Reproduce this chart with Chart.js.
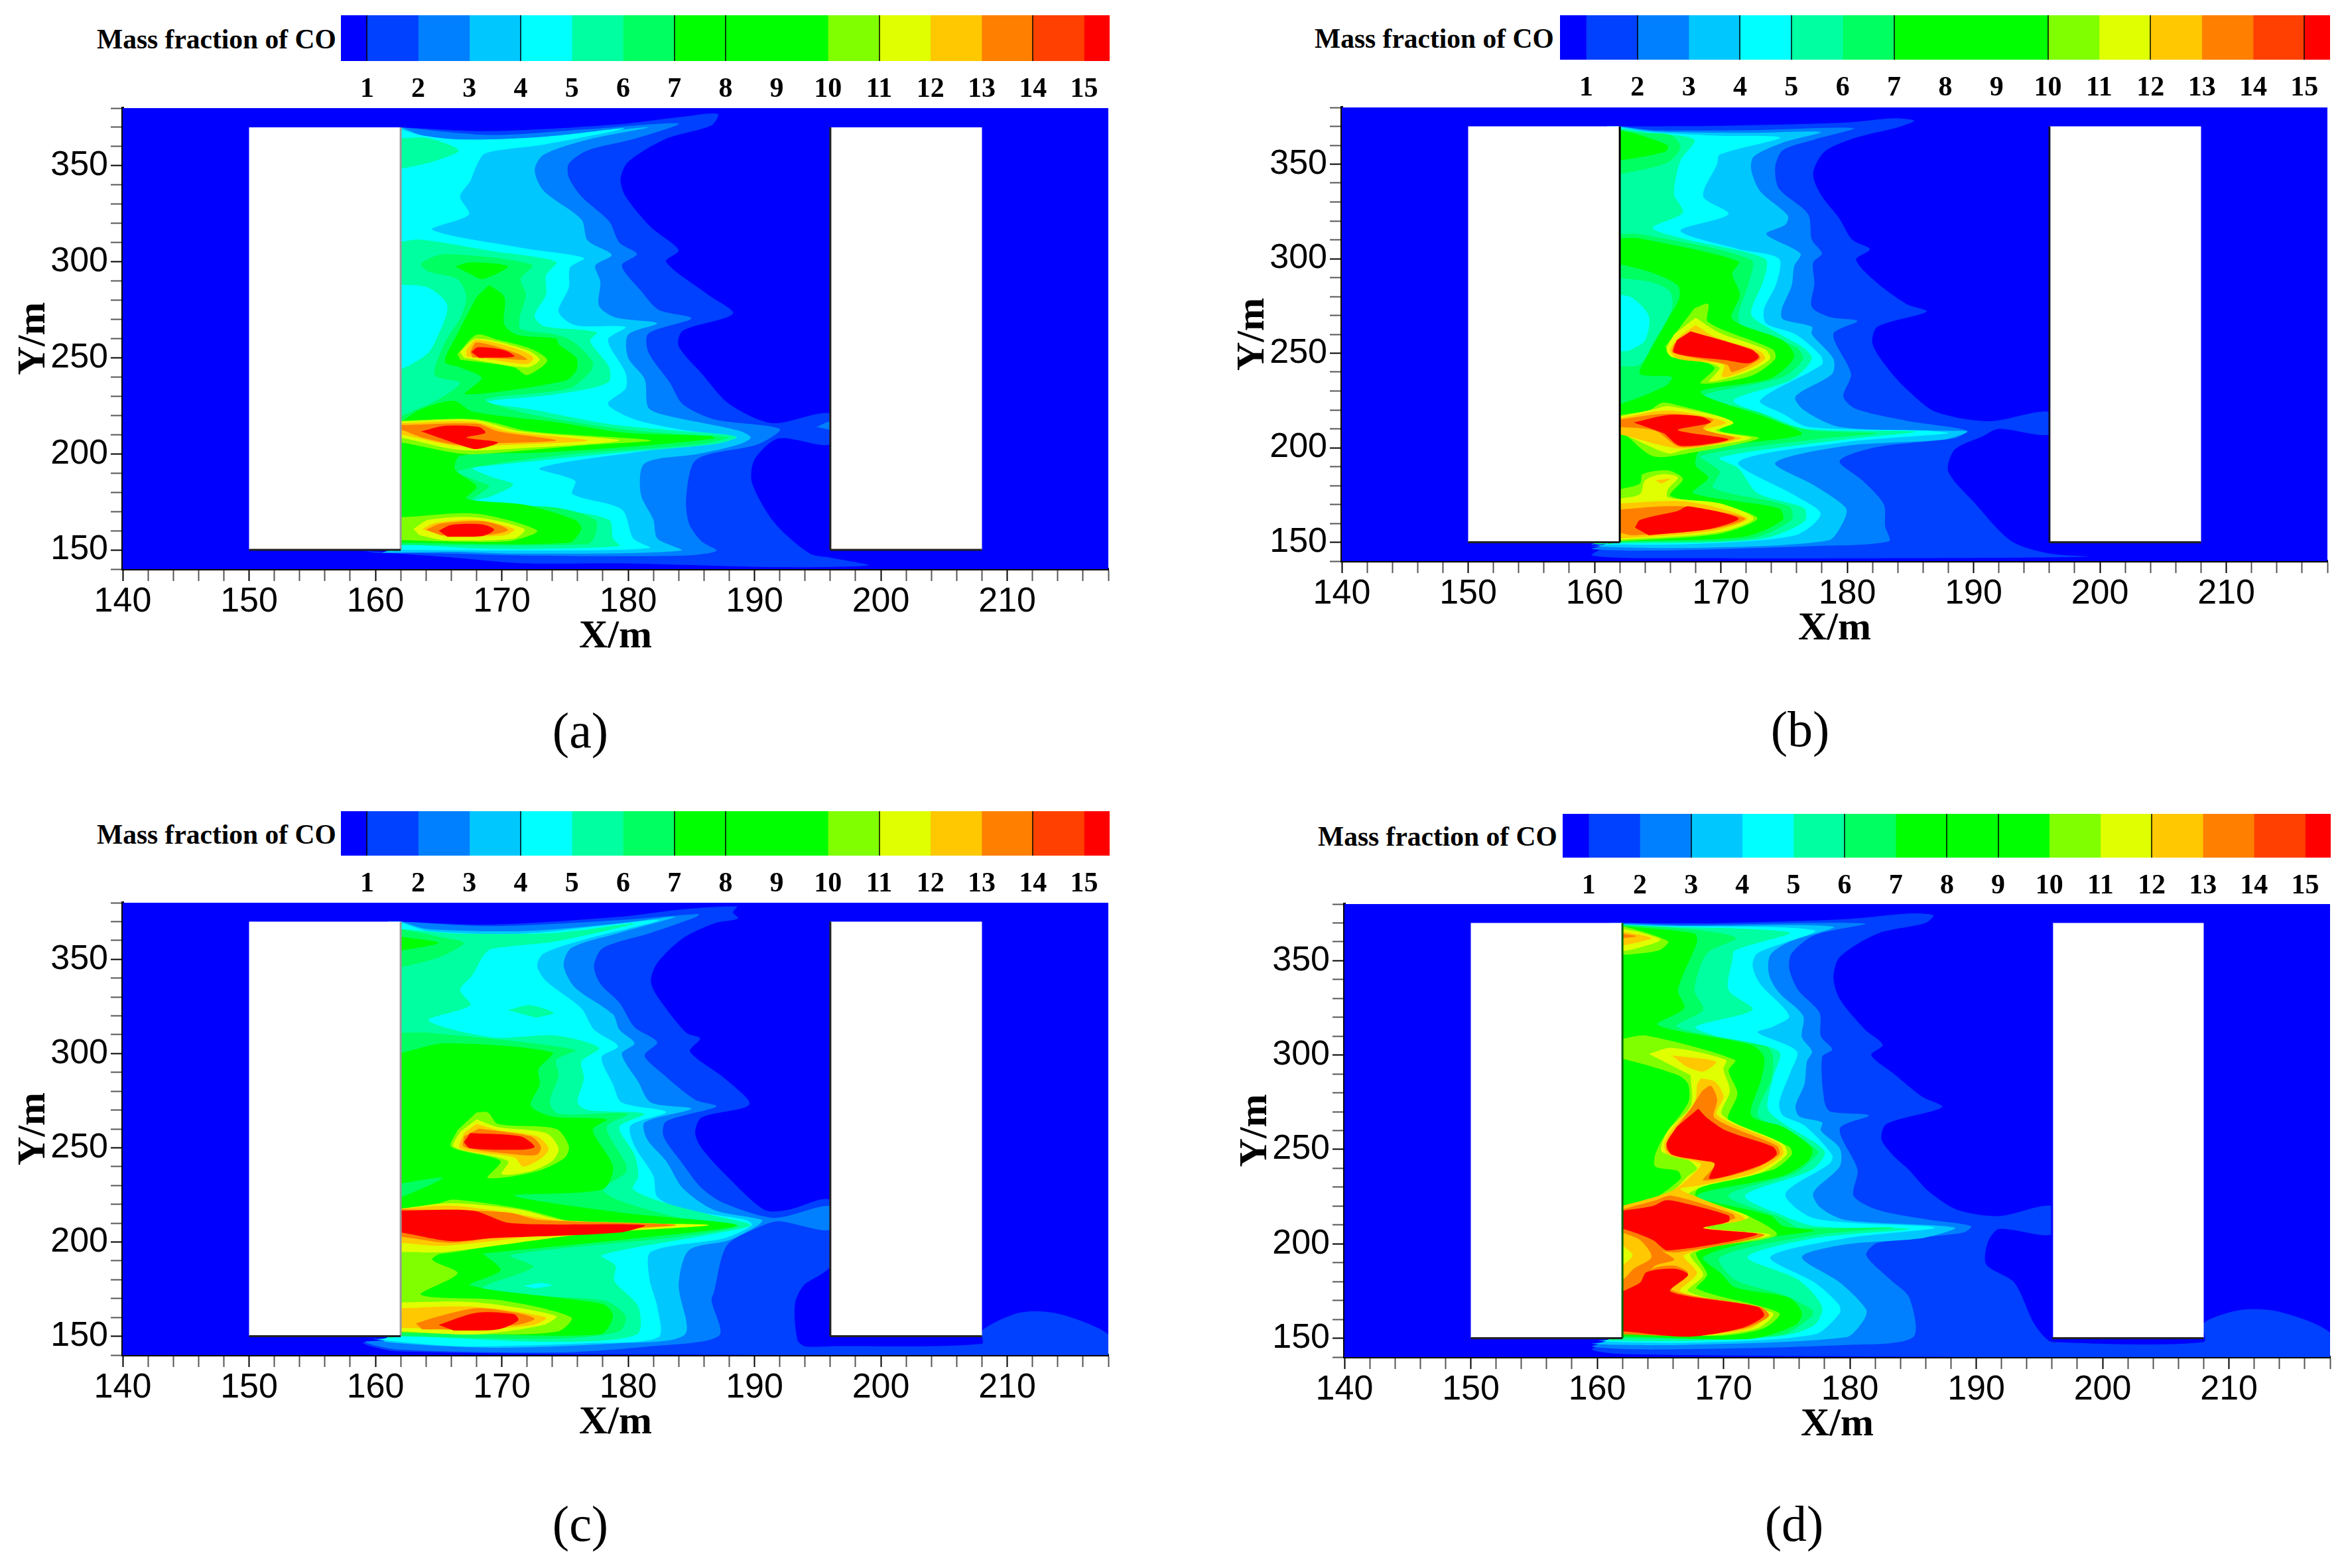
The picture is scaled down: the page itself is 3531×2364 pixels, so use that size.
<!DOCTYPE html>
<html>
<head>
<meta charset="utf-8">
<title>Mass fraction of CO</title>
<script src="https://cdn.jsdelivr.net/npm/chart.js@4"></script>
<style>
    html, body { margin: 0; padding: 0; background: #fff; width: 3531px; height: 2364px; overflow: hidden; }
    canvas { position: absolute; }
    .note { position: absolute; white-space: nowrap; color: #000; font-family: "Liberation Serif", serif; }
    .barTitle { font-weight: bold; font-size: 41.5px; transform: translateY(-50%); }
    .panelTag { font-size: 76px; transform: translate(-50%, -50%); }
</style>
</head>
<body>
<script>
/* ================================================================
   COLOUR BAR
   ================================================================ */
const legendTitle = 'Mass fraction of CO';
const legendLevels = [1, 2, 3, 4, 5, 6, 7, 8, 9, 10, 11, 12, 13, 14, 15];
const legendBandWidths = [1, 1, 1, 1, 1, 1, 1, 1, 1, 1, 1, 1, 1, 1, 1, 0.52];
const bandColors = ['#0000ff', '#0040ff', '#0080ff', '#00c8ff', '#00ffff', '#00ffa0', '#00ff60', '#00ff00',
                    '#00ff00', '#00ff00', '#80ff00', '#e0ff00', '#ffc800', '#ff8000', '#ff4000', '#ff0000'];
const legendLinesA = [1, 4, 7, 8, 11, 14];
const legendLinesB = [2, 4, 5, 7, 10, 12, 15];
const legendLinesC = [1, 4, 7, 8, 11, 14];
const legendLinesD = [3, 6, 8, 9, 12];

/* ================================================================
   AXES AND BUILDINGS
   ================================================================ */
const xRange = [140, 218];
const yRange = [140, 380];
const plotArea = [[140, 140], [218, 140], [218, 380], [140, 380]];
const leftBlock = [[150, 150], [162, 150], [162, 370], [150, 370]];
const rightBlock = [[196, 150], [208, 150], [208, 370], [196, 370]];
const leftBlockBase = [[150, 150], [162, 150]];
const rightBlockBase = [[196, 150], [208, 150]];
const leftBlockWall = [[162, 150], [162, 370]];
const rightBlockWall = [[196, 150], [196, 370]];

/* ================================================================
   PANEL (a) contour outlines, [X, Y]
   ================================================================ */
const a2 = [[162,370],[169.2,368],[179.3,371.6],[184.3,375.5],[187.1,377],[186.6,371],[183,364],[180,352],[179.4,343],[179.8,334],[181.8,318],[184,306],[183,300],[186.3,283],[188.3,273],[184.3,264],[184,256],[185.8,242],[188,226],[191.4,216],[196,221],[196,205],[191.9,208],[190,197],[189.8,185],[191.6,164],[194.4,148],[196,146],[199,142],[191.9,141],[179.3,143],[171.8,143],[166.2,146],[159,149.7],[161,150],[161,370]];
const a3 = [[162,370],[169.2,366],[176.8,369],[184,372],[180.5,364],[176.8,358],[175.3,351],[175.3,344],[176.3,334],[178.5,321],[179.3,310],[180.7,304],[179.5,298],[181,285],[182.4,275],[185,270.5],[181.6,262.6],[181.6,253],[183.3,237],[184.3,226],[186.8,218],[192,213],[190.3,205],[185.4,197],[184.6,178],[184.8,164],[185.8,154.5],[187,149.5],[184.3,147],[171.8,147],[166.2,148],[159.7,149],[161,150],[161,370]];
const a3b = [[194.9,214],[196,217],[197,217],[197,212.5],[196,212.5]];
const a4 = [[162,370],[164.2,365],[169.2,363.6],[176.8,367],[181.6,370],[176.8,363.6],[173.3,355.7],[172.6,347.7],[173.3,337],[176.3,322],[176.8,311],[178.7,303.6],[177.4,298],[177.8,289.7],[177.7,277],[179,271],[182.3,268],[180,262],[180,250],[181.3,239],[181.6,224],[183,220],[188.8,212],[189.7,208.5],[188.8,205],[185.6,200],[181.3,195],[181,179],[182,165.6],[182.3,156],[184.2,149.7],[171.8,148],[166,149],[160.5,148.5],[161,150],[161,370]];
const a5 = [[162,369],[163.5,366],[166.7,363.6],[173.3,365],[179.7,369.5],[173.3,361],[168.7,356.5],[168,350],[167.5,342],[166.7,334],[167.4,324.6],[164.5,316.7],[171.8,307],[176.5,302],[175.4,297],[175.3,286.5],[174.5,274],[175.8,267],[179.8,266],[178.4,259.4],[179.8,242],[179.8,234],[178.4,226],[180.5,218],[184.3,212.5],[188.6,208.5],[181.8,202],[173,192.6],[175.8,186],[175.6,179],[179.5,171],[180.4,156],[181.7,151],[171.8,149.7],[162,150],[161,150],[161,369]];
const a6a = [[161,365],[162,364.4],[164.2,364.4],[166.6,358],[164.7,352.5],[162,348.5],[161,348]];
const a6b = [[162,310.3],[163.5,311.6],[169.2,305.6],[174.3,300],[173.5,293],[173.5,283],[172.6,272],[173.3,266.6],[177.5,263.4],[177,258.6],[178.5,245],[178.4,237],[174.3,231],[168.7,227],[172.5,223],[178.3,215.7],[183,212.5],[187.8,210],[188.6,208.5],[186.8,205],[179.3,200.6],[169.2,194],[167.7,192.6],[169.2,188],[170.9,184],[169.2,178],[167.5,175],[174.3,171],[178.5,165.6],[178.8,156],[179.3,152],[169.2,150.5],[162,153],[161,153],[161,310]];
const a5h = [[161,287],[162,288],[164.2,286.5],[165.7,277],[164.7,258],[164,251.5],[162,244],[161,244]];
const a7 = [[162,219.7],[165,228.4],[166.7,237],[164.7,241],[165.5,258],[166.7,270.6],[167.2,281.7],[166.5,291],[164.2,295],[163.6,299],[165.5,304],[172.4,298.4],[171.5,291],[171.9,283],[171.4,270.6],[171.5,265],[174.3,262],[175.6,258.6],[177.2,248],[177,242.7],[175.3,234],[168.7,228.4],[172,221],[180,212.5],[187.3,209],[188,208.5],[185.6,205],[174.3,199],[166.5,191],[168,186],[169,183],[167.5,175],[174.3,172],[177.4,165.6],[177.4,157.6],[176.8,153],[162,152.5],[161,152.5],[161,219.7]];
const a8a = [[166.3,297.6],[167.5,299.7],[170.5,297.6],[168.5,291],[167.5,293.6]];
const a8b = [[169,288],[170.2,281.7],[170.2,267.4],[171.2,262],[174.3,260],[174.5,257],[175.9,250],[175.9,243.5],[175,238],[167.1,231],[168.4,239.5],[166.7,245],[165.5,248],[166.5,262.6],[168,281.7]];
const a8c = [[161,218],[162,217],[163.5,223],[166.2,227.6],[167.7,222],[174.3,216.5],[179.8,211],[186.6,209.3],[186.8,208],[181.8,204.6],[173,200.6],[166.7,199],[166.3,192],[168,183],[167.2,176.7],[171.8,173.5],[175.8,165.6],[176.3,161],[175.3,153.7],[162,153.7],[161,153.7]];
const a10a = [[166.5,252],[168,262],[169.7,259.4],[172.3,254.7],[173.6,248.6],[172,241],[171,245],[166.7,249]];
const a10b = [[161,217.5],[162,217.3],[168,218],[172.3,211.7],[181.8,207],[176.8,204.6],[168,199.8],[166.2,200.6],[162,206],[161,206]];
const a10c = [[161,167.5],[162,167],[168,168.8],[172.8,160],[170.5,154.5],[162,155],[161,155]];
const a11a = [[166.7,253],[168,260],[172,254],[173,249],[172,245],[167,250]];
const a11b = [[161,217],[162,216.8],[167.7,217.8],[171.5,211.7],[179.3,207],[171.8,203],[166.7,202],[162,208.5],[161,208.5]];
const a11c = [[163,160.8],[164.2,165.6],[168,166.9],[171.8,160.8],[171,156],[165.5,155],[163.5,157.6]];
const a12a = [[167.2,254],[168,259.4],[171.5,254],[172.5,250],[172,246.7],[169.2,249],[167.2,250.7]];
const a12b = [[161,216],[162,216],[167.7,216.8],[170.5,211.7],[176.8,207],[170.5,204.6],[166.7,203.8],[162,210],[161,210]];
const a12c = [[163.7,160.8],[164.7,164],[168,165.6],[171,160.8],[170.2,157.6],[165.5,156.8]];
const a13a = [[167.5,253],[168,258],[171.2,252.3],[172,249],[169.2,250],[167.7,250.2]];
const a13b = [[161,215],[162,215],[168,215.7],[169.7,211.7],[174.3,207],[169.2,205.4],[166.7,204.6],[163.7,208.5],[162,212.5],[161,212.5]];
const a13c = [[164,160.5],[165.2,163.7],[168.7,164.8],[170.5,160.5],[169.2,158],[165.2,157.6]];
const a15a = [[167.6,253],[168.1,255.5],[170.2,254],[171,250.7],[168.2,250]];
const a15b = [[163.6,211.7],[165.5,214.6],[168.2,214],[168.7,211],[167.2,208.5],[169.7,206],[168,202.5],[166.7,204.6]];
const a15c = [[165,160],[166,163],[168.5,163.2],[169.4,160.5],[168.5,157.3],[165.7,156.8]];

/* ================================================================
   PANEL (b)
   ================================================================ */
const b2 = [[162,370],[169.9,370.3],[179.9,372],[183.7,374.3],[185.3,373],[184,369.5],[180.7,364],[178.2,356.6],[177.3,345],[177.9,334],[179.4,321],[180.4,310],[181.8,305],[180.7,299.4],[182.4,287],[184.7,276],[186.3,272],[182.4,264],[182,255],[183.2,242],[184.7,231],[187,219],[191.2,214],[196,219],[196,207],[192,210],[190.7,206],[188.5,199],[188,187.5],[190,171.4],[193,150.5],[196,144],[199,142.4],[184.9,141.6],[167.4,141.6],[159.8,143],[161,150],[161,370]];
const b3 = [[162,370],[164.8,368],[172.4,368],[180.5,369],[177.4,363],[174.9,357.4],[174.3,348.5],[174.6,337],[176.9,323.6],[177.2,310],[178,302.7],[177.3,298],[177.4,287],[177.2,274.5],[178.7,269],[180.8,267],[178.9,260],[180.3,239],[179.7,227],[180.7,220.5],[184.9,214],[189.5,209],[188.5,205],[182.4,200.4],[179.4,193],[181.2,182.7],[182.9,170],[183,158.5],[183.3,150.5],[177.4,148],[164.8,145.6],[159.8,146.5],[161,150],[161,370]];
const b4 = [[162,370],[164.8,367.4],[172.4,366.6],[177.9,367],[174.9,361.4],[172.6,354],[172.4,347],[173.1,335.7],[175.3,322.8],[175.1,318],[173.6,313],[176.3,302.7],[175.8,296],[175.6,285.7],[174.8,273],[174.9,268],[177.2,264],[177.2,260],[178.9,247],[178.8,239],[175.9,227],[176.6,219.7],[179.4,211],[187.5,209],[189.5,208.5],[187.7,204.4],[179.9,201],[174.3,192],[177.4,180],[179.9,168],[179.7,161],[178.5,151],[167.4,147],[159.8,148],[161,150],[161,370]];
const b5 = [[162,369.5],[164.3,367],[169.9,365],[174.7,364],[169.9,355],[169.7,350],[168.6,333],[170.6,323.6],[166.8,314.7],[171.4,305],[174.6,300],[174.4,287],[173.4,273],[173.6,265.6],[175.9,260],[177.9,248.7],[178,244],[173.1,225],[174.9,218],[176.9,211],[186.2,209],[188,207.6],[179.9,203],[171.4,192.4],[175.9,174.6],[177.9,165],[175.9,153.7],[167.4,149],[159.8,149],[161,150],[161,369.5]];
const b6 = [[162,369],[164.3,366.6],[167.9,363],[166.8,351.8],[166.3,334],[167,324.4],[164.6,316.3],[167.4,310],[173.5,300],[173.4,289],[172.4,271],[173.6,264],[176.4,253.5],[177.2,247],[175.6,236],[171,225],[174,216.5],[176.7,210],[185.4,208.5],[179.9,204.4],[169.9,194.8],[171.4,189],[172.9,176],[176.6,168],[176.6,161],[173.4,152],[167.4,149.7],[159.8,149.6],[161,150],[161,369]];
const b7a = [[162,344.5],[165.8,351],[166.8,359],[166,365.5],[163.6,366.6],[162,368],[161,368],[161,344.5]];
const b7b = [[162,313],[163.6,313],[172.4,299.4],[172.2,287],[171.4,271],[171.6,265],[175.9,253.5],[176.5,247],[174.9,237.4],[168.4,227],[172.9,219],[174.9,213],[177.4,209],[182.4,207.6],[177.4,204.4],[168.4,195.6],[169.9,187.5],[169.4,178.7],[175.4,169],[175.6,161.8],[172.4,152],[162,150],[161,150],[161,313]];
const b8a = [[162,368],[163.3,366],[165.8,360],[165.6,356.6],[162,352],[161,352],[161,368]];
const b8b = [[162,310.7],[163.6,310.7],[171.4,298.6],[170.9,292],[171.5,281],[170.9,268],[174.9,256.8],[175.8,248],[173.9,236.6],[168.4,229.4],[174,215],[176.4,207],[168.4,198.8],[168,190.7],[169,184],[167.8,176],[174.6,168],[174.9,161.8],[171.9,153],[162,150.5],[161,150],[161,223],[162,223],[165.6,232.6],[166.1,237.4],[163.6,239],[164.3,250],[165.8,268],[166.7,279],[166.6,285.7],[164.8,292],[162,297],[161,297],[161,310]];
const b6h = [[162,289.8],[164.6,287.4],[166,282.5],[166.1,272.8],[164.6,255],[163.6,244],[162,243],[161,243],[161,290]];
const b5h = [[162,281],[163,279.3],[164.3,269.6],[164,256.8],[162.8,251.6],[162,251],[161,251],[161,281]];
const b10a = [[167.9,273.7],[169,276],[169,266.4],[174.1,252],[174.3,247],[172.4,238],[168.4,234],[169.5,242],[168.6,245.5],[166.1,248.7],[165.6,253.5]];
const b10b = [[162,217.3],[164.3,219.7],[165.3,223.7],[166.3,223],[170.9,214],[169.9,209],[173,205],[167.4,197],[164.6,195.6],[162,209],[161,209],[161,217]];
const b10c = [[162,178],[163.6,181],[163.8,186],[165.8,188],[167,183.5],[166,174.6],[169.9,170],[172.9,162.6],[169.9,154.5],[162,150.5],[161,150],[161,178]];
const b11a = [[168,268.8],[169.9,260.8],[173.5,252],[173.9,247],[172.1,240],[169.1,235],[169.9,242],[169.1,244.7],[166.1,248],[165.7,252],[166.3,260]];
const b11b = [[162,216.5],[164.8,220.5],[165.8,222],[169.9,216.5],[171,213],[169.6,209],[172.4,205],[167,198.8],[165.8,197],[162,207.6],[161,207.6],[161,216.5]];
const b11c = [[162,173],[163.6,175.4],[164,182.7],[165.3,186],[166.6,184.3],[165.8,177.9],[165.8,173.8],[169.9,170.6],[172.6,162.6],[169.9,155.3],[162,151.3],[161,151],[161,173]];
const b12a = [[168,264.8],[169.6,258.4],[173.1,251],[173.5,247],[171.9,240.7],[170.1,237.4],[170.2,243.9],[166.6,247],[166,252],[166.9,260]];
const b12b = [[162,215.7],[165.8,219.7],[169.4,215.7],[170.4,213],[168.6,209],[171.6,205],[166.8,199.6],[162,207],[161,207],[161,215.7]];
const b12c = [[162,170.6],[167.4,171.4],[172.1,162.6],[169.4,156],[162,152],[161,152],[161,170.6]];
const b12d = [[164.8,182.7],[166,183.5],[165.3,181]];
const b13a = [[167.6,260.8],[172.9,250],[173.1,247],[170.9,240],[170.5,243.9],[166.2,250.3],[166.3,255]];
const b13b = [[162,215],[165.8,218],[169.4,215],[168.6,210],[171.1,205],[166.8,200.4],[164.8,209],[162,211],[161,211],[161,215]];
const b13c = [[162,167.4],[166.8,169],[171.9,162.6],[169.4,157],[163,153.7],[162,155],[161,155],[161,167.4]];
const b15a = [[167.6,261.6],[172.4,252],[173,248],[172.2,244.7],[170.4,246.3],[166.3,250.3],[166.5,256.8]];
const b15b = [[163.1,213.3],[165.8,217.3],[168.4,216.5],[169.2,213.3],[166.6,209.3],[170.6,204.4],[166.8,201],[165.5,207.6]];
const b15c = [[163.2,157.7],[163.6,161.8],[166.6,166.6],[167.4,169],[171.4,162.6],[169.1,157],[164.3,153.7]];

/* ================================================================
   PANEL (c)
   ================================================================ */
const c2 = [[162,370],[169.2,368.4],[179.3,372.5],[184.3,376.5],[188.6,378],[188.3,375],[188.7,371.6],[186.8,369],[184.3,361],[182.3,348],[181.8,338.5],[182.3,330.5],[184.6,311],[185.7,308],[184.9,301],[187.6,287],[189.6,273],[185.8,266],[185.3,258],[185.8,250],[187.8,235],[190.8,217],[192.6,217],[196,222],[196,187.5],[193.9,177],[193.2,167],[193.4,148],[194,144.7],[196,144.7],[208,146],[208,153],[211,162.5],[214,162],[218,151],[218,140],[190,140],[161.7,142],[159,146.5],[161,150],[161,370]];
const c3 = [[162,370],[169.2,367.6],[179.3,370.8],[185.6,374],[185.4,372.5],[181.8,364],[178,356],[177.3,346.6],[177.8,337],[179.3,327],[180.5,314],[182.3,306],[181.3,299],[182.6,290],[185.3,275.5],[187,272],[183,264],[182.8,256],[184.3,241.6],[185.8,228.7],[187.6,220.6],[191.6,212.8],[196,219],[196,206.4],[191.9,211],[190.3,207.7],[187.8,198],[186.8,173.7],[186.6,169],[187.2,150.3],[181.8,144.7],[174.3,141.4],[161.7,143],[159.2,147],[161,150],[161,370]];
const c4 = [[162,370],[164.2,366],[171.8,365],[179.3,369],[183.7,372.5],[179.3,364],[175.5,356],[174.9,346.6],[175.8,335],[178.8,320.8],[179.3,312.7],[180.5,305.4],[179.5,299.8],[180.8,285],[181.8,274],[185,270.7],[181.3,263.4],[181.5,254.5],[183,243],[184.3,228.7],[186.8,217],[190.6,211.7],[190.3,209],[188,201],[184.8,195.6],[184,177],[184.5,151],[179.3,146.3],[169.2,143.9],[160.7,147],[161,150],[161,370]];
const c5 = [[162,369.5],[164.2,365],[171.8,363.6],[182.4,370.8],[176.8,361],[173.3,353],[172.8,346.6],[173.5,338.5],[176.3,324],[177.3,312.7],[179.2,303.8],[177.9,298],[178.8,283.6],[179.5,274],[183,269],[180.2,261.8],[180.5,251],[182,235],[182.3,224],[184.3,217.4],[189.3,211.7],[189.8,209],[187.6,202],[181.8,194.7],[181.7,180],[182.3,165.7],[182.4,149.5],[176.8,146.3],[166.7,144.7],[159.7,148.7],[161,150],[161,369.5]];
const c6 = [[162,366],[166.7,363.6],[174.3,364],[180.5,369],[174.3,359.5],[169.2,355.5],[168.5,351.5],[167.7,341.8],[166.7,333.7],[167.5,325.6],[164.2,317.5],[169.2,308.6],[174.3,309.5],[177.7,303],[176.3,295.7],[176.5,286.8],[176,274],[176.8,270],[181.3,268],[179.3,261],[180.5,246.5],[180.8,235],[180.4,228],[183,220.6],[186.8,214],[189.7,209],[186.8,204.4],[177.9,193],[179,187.5],[178.9,179.4],[180.8,165.7],[180.7,151],[174.3,147],[162,150.3],[161,150],[161,366]];
const c6b = [[170.5,323],[172.2,325.6],[174.1,321.5],[172.7,319]];
const c7a = [[162,366],[165,362],[167,358.7],[165.2,351.5],[162,345.8],[161,345.8],[161,366]];
const c7b = [[162,311],[164.2,311],[175.8,302],[174.3,296.5],[174.5,288.4],[173.8,274],[174.5,268],[180,268],[178.3,261],[179.8,241.6],[179.8,236.7],[178,228],[179.3,222],[184.3,212.5],[188.8,208.5],[184.3,203],[170.7,193],[172.5,186.7],[168.5,176],[169.7,172],[178,169],[179.8,160.8],[179.3,152.7],[174.3,148.7],[162,150],[161,150],[161,311]];
const c6h = [[162,282.8],[164.2,278.8],[165,269],[164.2,256],[162,246.8],[161,246.8],[161,283]];
const c5b = [[171.7,176.6],[173,178.3],[174,177],[172.7,175.4]];
const c8a = [[162,362],[165,358.7],[162,354.7],[161,355],[161,362]];
const c8b = [[162.2,300.6],[165.5,305.4],[174,300.6],[172.9,291.7],[173,283.6],[172.3,272.3],[174,266.6],[178.3,265],[177.2,259.4],[178.8,240],[178,228],[171,224.6],[179.3,215.7],[188.6,209],[181.8,202.8],[169.7,194.7],[168.7,194],[168.5,194],[169.9,185],[167.5,177],[178,167],[178.8,160.8],[177.8,151],[162,152],[161,150],[161,300],[162,300.6]];
const c7h = [[162,231],[165.3,234],[162,223.8],[161,224],[161,231]];
const c10a = [[168,268.7],[168.9,268.7],[169.7,262.6],[174.3,260],[175.3,251],[175,244.8],[172.8,237.6],[168.9,234],[169.9,243],[166,250.5],[166.5,259.4]];
const c10b = [[161,194],[162,194.7],[165.7,196.4],[164.5,190.7],[166.5,183.4],[163.6,172],[170,169],[175.5,160],[174.5,152.7],[169.2,151],[162,152],[161,152]];
const c10c = [[162,217.4],[165,220.6],[166.2,222.5],[171.7,217.4],[176.3,210],[185.3,209],[179.3,206],[171.7,201],[165.5,194],[162,194],[161,194],[161,217]];
const c11a = [[168,265],[169.7,261],[173.5,257.8],[174.5,249.7],[174,243],[172.3,237.6],[170,236],[170.5,243],[166.2,250.5],[166.7,258.5]];
const c11b = [[162,217.7],[166,220.6],[171.2,217.4],[175.3,211],[186.4,209],[176.8,204.4],[165.5,194.7],[162,194.7],[161,194.7],[161,217.7]];
const c11c = [[162,168],[168,168],[174.3,160.8],[173.3,156],[168,151],[162,152.7],[161,152.7],[161,168]];
const c12a = [[168,262.6],[169.7,259.4],[172.8,256],[173.7,249.7],[173.2,244.8],[171.7,240],[171,244.8],[166.7,249.7],[167,257.8]];
const c12b = [[162,217.7],[166,219.3],[170.5,215.7],[174.3,211.7],[183.8,209],[174.3,204.4],[165.5,198],[162,199.6],[161,199.6],[161,217.7]];
const c12c = [[162,164.9],[167.7,165.7],[173.5,160],[172.5,156],[168,153.6],[162,154.4],[161,154.4],[161,165]];
const c13a = [[168.2,260.2],[172.3,256],[173.1,250.5],[172.8,246.4],[171.2,246.4],[167,250.5],[167,256]];
const c13b = [[162,217.4],[170.5,215.7],[173,211.7],[183.8,209],[171.7,204.4],[166,199.6],[162,202.8],[161,203],[161,217]];
const c13c = [[163.2,156.8],[164.7,160],[168,164.9],[171.2,162.4],[172.6,159.2],[171.2,156],[166.7,153.6],[163.7,153.6]];
const c15a = [[167.5,257.8],[171.5,256],[172.6,250.5],[171.7,249],[167.5,249.7],[167,253]];
const c15b = [[162,216.6],[167.7,216.6],[170.7,210],[181.3,209],[179.3,205],[169.2,202],[166,200.4],[162,205],[161,205],[161,216.6]];
const c15c = [[165,156],[168,162.4],[171,161.6],[171.3,158.4],[169.7,153.6],[166.2,153]];

/* ================================================================
   PANEL (d)
   ================================================================ */
const d2 = [[162,370],[169.7,370],[179.7,372],[184.7,375],[186.6,374],[186,370],[182.2,364.4],[179.2,352],[178.7,341],[179.2,329.7],[181.2,313.5],[182.6,305.4],[181.7,300],[183.5,290],[185.7,278],[187.3,272.4],[182.9,263.5],[182.5,255.4],[183.4,247],[184.7,239],[186.2,228],[188.5,218],[191.8,214.7],[196,220],[196,205],[191.8,207.8],[190.9,200.5],[190.8,189],[193,179.5],[194.5,158.6],[195.3,151.3],[196,148],[208,148],[208,158],[211,165],[214,164],[218,153],[218,140],[190,140],[162,141.6],[159.6,144],[161,150],[161,370]];
const d3 = [[162,370],[167.2,369],[181.2,369.7],[177.2,363.5],[175.4,354],[175.2,345.8],[175.9,334.5],[177.6,322.4],[177.7,310],[178.6,303],[177.8,299],[178,274.8],[178.5,270],[181.5,268],[179.2,261],[180.6,239.3],[180.3,225.5],[182.2,218],[186,213],[189.6,209.4],[189,206],[182.2,200.5],[181.3,194],[183.2,181],[184.7,171.5],[185,150.5],[179.7,146.4],[164.6,144],[159.6,145.6],[161,150],[161,370]];
const d4 = [[162,369.5],[167.2,368.4],[178.7,368],[175.2,360],[173.7,353],[173.6,342.6],[174.4,333],[176.3,320.8],[176.2,309.5],[177,302],[176.6,296.6],[176.4,284.5],[175.7,273],[176,267.5],[177.8,264.3],[177.7,260],[179.2,250.6],[179.2,241],[177.1,227],[177.7,219],[179.7,212.6],[188.3,208.6],[185.7,203],[179.7,199.7],[176.2,193],[179.2,179.5],[181.3,165],[181,158.6],[179.7,150.5],[167.2,146.5],[159.6,147],[161,150],[161,369.5]];
const d5 = [[162,369],[164.6,368.4],[177.2,366],[172.7,354],[172.3,347.4],[172.9,337.7],[175.2,320.8],[173.9,315],[172.7,312],[175.8,302],[175.3,291],[174.4,274.8],[174.7,268],[176.4,262.7],[178.6,247],[178.4,242.5],[174.9,226.4],[177.2,213.4],[186.7,208.6],[179.7,203],[173.7,193],[177.2,179.5],[179.1,168],[179.2,163.4],[177.2,152],[167.2,147.6],[160,148.5],[161,150],[161,369]];
const d6 = [[162,368.5],[175.2,365],[170.9,355.5],[170.7,350.6],[170.4,334.5],[172.3,324],[167.8,315],[169.7,309.5],[174.4,302],[173.9,287.7],[173.5,271.6],[174.7,264],[178,249],[177,239.3],[171.7,225.5],[174.7,215],[177.2,209.4],[184.7,207.8],[177.2,203],[171.9,193],[175.9,181],[177.8,166.6],[177.2,157],[174.7,151.3],[167.2,148.5],[160,149],[161,150],[161,368.5]];
const d7 = [[162,369],[167.2,366.8],[171,362],[168.7,354],[167.7,334.5],[168.4,324],[166.3,315],[173.4,304.6],[173.9,300],[173.8,287.7],[172.7,268],[175.2,260],[177.5,249],[177.2,245.7],[175.7,237.6],[170.4,225.5],[174.7,213.4],[175.9,208.6],[183.5,208.6],[177.2,204.6],[169.7,193],[170.9,181],[174.7,173],[177,165],[177,161.8],[174.7,152],[167.2,149.7],[162,150],[161,150],[161,369]];
const d6h = [[162,282.5],[163.4,280.4],[164.8,270],[164.1,255.4],[162,250],[161,250],[161,282.5]];
const d5h = [[162,268.3],[162.4,264],[162,258.6],[161,258.6],[161,268.3]];
const d8 = [[162,368.4],[167.7,364.4],[167.9,360],[166.4,334.5],[166.9,324.8],[164.8,316],[172.2,305.4],[173.2,299],[173,287.7],[172.2,268],[174.7,262],[177,250.6],[176.7,244],[174.7,236],[167.9,225.5],[173.7,215],[174.7,209.4],[177.2,207],[173.4,203],[168.4,193],[169.8,184.4],[170.9,177],[175.2,171.5],[176.2,163.4],[175.7,157],[172.2,149.7],[162,151],[161,151],[161,368.4]];
const d10a = [[161,369],[162,368.4],[165.6,360.3],[164.9,355.5],[162,353],[161,353]];
const d10b = [[162,308.7],[163.9,310.3],[170.9,297.4],[170.4,291.7],[171.1,279.6],[170.4,265],[175.2,251.4],[175.4,247.3],[173.9,239.3],[168.2,230.4],[167.8,225.5],[171.9,215],[174.2,204.6],[167.9,195.7],[168.7,183.6],[167.9,176.3],[174.4,163.4],[173.2,155.3],[169.7,151.3],[162,153.7],[161,153.7],[161,218],[162,218],[164.1,222.3],[166.6,234.4],[166.4,238.5],[164.6,240.9],[164.6,247.3],[165.3,257],[167.2,274.8],[167.2,284.5],[166.4,289.3],[162,298],[161,298],[161,308.7]];
const d11a = [[162,366.8],[163.4,365],[165,361],[163.4,357],[162,355],[161,355],[161,366.8]];
const d11b = [[164.1,300.6],[165.9,303.8],[170.2,297.4],[170,292.5],[170.5,281],[169.9,268.3],[174.7,253],[175,247.3],[172.9,237.6],[168.4,230.4],[167.2,225.5],[172,214.2],[168.7,208.6],[173.7,204.6],[167.4,194.9],[168.4,183.6],[167.2,174.7],[173.9,163.4],[172.7,155.3],[168.4,151.3],[162,153.7],[161,153.7],[161,218],[162,219],[164.1,223],[166.1,228.8],[167.2,236],[167.9,240],[166.9,245.7],[165.1,249],[165.6,260],[167.4,273],[167.4,289.3]];
const d12a = [[162,365.5],[164.3,362],[163.1,359.5],[162,358],[161,358],[161,365.5]];
const d12b = [[165.9,299.8],[169.4,296.6],[168.4,291.2],[167,294]];
const d12c = [[168.2,287.7],[169.3,286],[170,278],[169.5,268.3],[174.4,253],[174.7,247.3],[172.4,237.6],[168.2,231],[166.6,228.8],[171.7,213.4],[168.4,208.6],[173.3,204.6],[166.9,194],[167.9,184.4],[166.6,174.7],[173.4,164.2],[172.2,155.3],[167.2,151.3],[162,153],[161,153],[161,218],[162,220],[165.9,228],[167.7,237.6],[168.2,242.5],[165.6,247.3],[165.3,253],[166.1,262],[167.7,274.8],[167.9,284.5]];
const d13a = [[162,364.4],[163.1,363],[162,362],[161,362],[161,364.4]];
const d13b = [[168.3,281],[169,283.7],[169.5,276.4],[169.3,266.7],[174.2,252],[174.4,247.3],[172.2,239.3],[168.4,233.6],[169.3,242.5],[165.6,249],[165.5,253.8],[167.4,271.6]];
const d13c = [[162,218.3],[164.6,223],[165.9,225.5],[170.7,215.9],[170.9,213.4],[168.3,208.6],[173.2,204.6],[166.6,195.7],[165.1,196.5],[163.6,205.4],[162,208.6],[161,208.6],[161,218]];
const d13d = [[161,209],[162,208.6],[163.9,203.8],[165.1,196.5],[166.1,191.6],[164.6,188.4],[163.4,179.5],[162,174.7],[161,174.7]];
const d13e = [[161,174],[162,174.7],[163.4,179.5],[164.4,186.8],[166.1,188.4],[167.2,184.4],[165.9,175.5],[172.9,166.6],[173.6,161.8],[171.7,155.3],[167.2,151.3],[162,152],[161,152]];
const d12h = [[162,206],[163.4,202],[164.3,193],[162.9,186.8],[162,181],[161,181],[161,206]];
const d11h = [[162,199],[162.8,194],[162,189],[161,189],[161,199]];
const d15a = [[168,271.6],[168.7,266.7],[170.2,260],[173.9,251.4],[174.2,247.3],[172.7,241],[168.9,234.4],[169.3,242.5],[168.4,244],[165.9,247.3],[165.5,253],[166.3,262]];
const d15b = [[162,217.5],[164.4,220],[165.4,223],[166.4,222.3],[170.4,215],[170.4,211.8],[168.4,208.3],[172.7,205],[165.6,196.5],[164.4,202],[162.1,207.8],[161,208],[161,217.5]];
const d15c = [[162,174.7],[163.4,179.5],[163.9,185],[166.1,186.8],[167.2,183.6],[165.8,174.7],[172.7,166.6],[173.2,161.8],[171.4,155.3],[167.2,150.8],[162,153.7],[161,153.7],[161,174.7]];

/* ================================================================
   LAYER ORDER: [band index in bandColors, outline]. Later ones sit on top.
   ================================================================ */
const layersA = [[1,a2],[2,a3],[2,a3b],[3,a4],[4,a5],[5,a6a],[5,a6b],[4,a5h],[6,a7],[7,a8a],[7,a8b],[7,a8c],[10,a10a],[10,a10b],[10,a10c],[11,a11a],[11,a11b],[11,a11c],[12,a12a],[12,a12b],[12,a12c],[13,a13a],[13,a13b],[13,a13c],[15,a15a],[15,a15b],[15,a15c]];
const layersB = [[1,b2],[2,b3],[3,b4],[4,b5],[5,b6],[6,b7a],[6,b7b],[7,b8a],[7,b8b],[5,b6h],[4,b5h],[10,b10a],[10,b10b],[10,b10c],[11,b11a],[11,b11b],[11,b11c],[12,b12a],[12,b12b],[12,b12c],[12,b12d],[13,b13a],[13,b13b],[13,b13c],[15,b15a],[15,b15b],[15,b15c]];
const layersC = [[1,c2],[2,c3],[3,c4],[4,c5],[5,c6],[5,c6b],[6,c7a],[6,c7b],[5,c6h],[4,c5b],[7,c8a],[7,c8b],[6,c7h],[10,c10a],[10,c10b],[10,c10c],[11,c11a],[11,c11b],[11,c11c],[12,c12a],[12,c12b],[12,c12c],[13,c13a],[13,c13b],[13,c13c],[15,c15a],[15,c15b],[15,c15c]];
const layersD = [[1,d2],[2,d3],[3,d4],[4,d5],[5,d6],[6,d7],[5,d6h],[4,d5h],[7,d8],[10,d10a],[10,d10b],[11,d11a],[11,d11b],[12,d12a],[12,d12b],[12,d12c],[13,d13a],[13,d13b],[13,d13c],[13,d13d],[13,d13e],[12,d12h],[11,d11h],[15,d15a],[15,d15b],[15,d15c]];

/* where each panel sits on the page, in pixels */
const panelFrames = [
    { tag: '(a)', layers: layersA, lines: legendLinesA, plot: [185, 163, 1486, 695], bar: [514, 23, 1159, 69], titleX: 146, tagAt: [875, 1101], wallL: '#999999', wallR: '#222222' },
    { tag: '(b)', layers: layersB, lines: legendLinesB, plot: [2023, 162, 1486, 684], bar: [2352, 23, 1161, 67], titleX: 1982, tagAt: [2714, 1099], wallL: '#000000', wallR: '#111133' },
    { tag: '(c)', layers: layersC, lines: legendLinesC, plot: [185, 1361, 1486, 682], bar: [514, 1223, 1159, 67], titleX: 146, tagAt: [875, 2297], wallL: '#999999', wallR: '#222222' },
    { tag: '(d)', layers: layersD, lines: legendLinesD, plot: [2027, 1363, 1486, 683], bar: [2356, 1227, 1158, 66], titleX: 1987, tagAt: [2705, 2297], wallL: '#006600', wallR: '#0000ff' }
];

Chart.defaults.animation = false;
Chart.defaults.plugins.legend.display = false;
Chart.defaults.plugins.tooltip.enabled = false;

function addCanvas(left, top, width, height) {
    const c = document.createElement('canvas');
    c.width = width;
    c.height = height;
    c.style.left = left + 'px';
    c.style.top = top + 'px';
    c.style.width = width + 'px';
    c.style.height = height + 'px';
    document.body.appendChild(c);
    return c;
}

function addNote(cls, text, x, y) {
    const d = document.createElement('div');
    d.className = 'note ' + cls;
    d.textContent = text;
    d.style.left = x + 'px';
    d.style.top = y + 'px';
    document.body.appendChild(d);
}

function polygon(points, color, tension) {
    return { data: points, showLine: true, fill: 'shape', tension: tension, backgroundColor: color,
             borderWidth: 0, pointRadius: 0, pointHitRadius: 0 };
}

function edgeLine(points, color) {
    return { data: points, showLine: true, fill: false, tension: 0, borderColor: color,
             borderWidth: 3, pointRadius: 0, pointHitRadius: 0 };
}

// the empty labels at the axis ends must not push the plot area in
function fixAxisBox(s) {
    s.paddingTop = 0;
    s.paddingBottom = 0;
    s.paddingLeft = 0;
    s.paddingRight = 0;
}

function drawPanel(p) {
    const [left, top, width, height] = p.plot;
    const gutterLeft = 170, gutterBottom = 138, padTop = 10, padRight = 16;
    const canvas = addCanvas(left - gutterLeft, top - padTop, gutterLeft + width + padRight, padTop + height + gutterBottom);

    const datasets = [polygon(plotArea, bandColors[0], 0)];
    p.layers.forEach(l => datasets.push(polygon(l[1], bandColors[l[0]], 0.28)));
    datasets.push(polygon(leftBlock, '#ffffff', 0));
    datasets.push(polygon(rightBlock, '#ffffff', 0));
    datasets.push(edgeLine(leftBlockWall, p.wallL));
    datasets.push(edgeLine(rightBlockWall, p.wallR));
    datasets.push(edgeLine(leftBlockBase, '#222222'));
    datasets.push(edgeLine(rightBlockBase, '#222222'));
    // lower order is painted last
    datasets.forEach((d, i) => { d.order = datasets.length - i; });

    const tickFont = { family: "'Liberation Sans', sans-serif", size: 52 };
    const titleFont = { family: "'Liberation Serif', serif", size: 60, weight: 'bold' };

    new Chart(canvas, {
        type: 'scatter',
        data: { datasets },
        options: {
            responsive: false,
            layout: { padding: { top: padTop, right: padRight } },
            scales: {
                x: {
                    type: 'linear', min: xRange[0], max: xRange[1],
                    afterFit: s => { s.height = gutterBottom; fixAxisBox(s); },
                    border: { color: '#000', width: 4 },
                    grid: { drawOnChartArea: false, tickLength: 18, tickWidth: 2,
                            tickColor: c => (c.tick.value % 10 === 0 ? '#000' : '#555') },
                    ticks: { stepSize: 2, autoSkip: false, maxRotation: 0, minRotation: 0, padding: 0, color: '#000', font: tickFont,
                             callback: v => (v % 10 === 0 ? String(v) : '') },
                    title: { display: true, text: 'X/m', color: '#000', font: titleFont, padding: 0 }
                },
                y: {
                    type: 'linear', min: yRange[0], max: yRange[1],
                    afterFit: s => { s.width = gutterLeft; fixAxisBox(s); },
                    border: { color: '#000', width: 4 },
                    grid: { drawOnChartArea: false, tickLength: 18, tickWidth: 2,
                            tickColor: c => (c.tick.value % 50 === 0 ? '#000' : '#555') },
                    ticks: { stepSize: 10, autoSkip: false, padding: 4, color: '#000', font: tickFont,
                             callback: v => (v % 50 === 0 ? String(v) : '') },
                    title: { display: true, text: 'Y/m', color: '#000', font: titleFont, padding: 0 }
                }
            }
        }
    });
}

function drawLegendBar(p) {
    const [left, top, width, height] = p.bar;
    const below = 66;
    const canvas = addCanvas(left, top, width, height + below);
    const range = [0.49, 15.5];
    new Chart(canvas, {
        type: 'bar',
        data: {
            labels: ['CO'],
            datasets: legendBandWidths.map((w, i) => ({
                data: [w], backgroundColor: bandColors[i], stack: 'bar',
                barPercentage: 1, categoryPercentage: 1, borderWidth: 0
            }))
        },
        options: {
            indexAxis: 'y',
            responsive: false,
            layout: { padding: 0 },
            scales: {
                x: {
                    type: 'linear', stacked: true, min: range[0], max: range[1],
                    afterFit: s => { s.height = below; fixAxisBox(s); },
                    border: { display: false },
                    grid: { drawTicks: false, z: 1, lineWidth: 2,
                            color: c => (p.lines.includes(c.tick.value) ? 'rgba(0,0,0,0.75)' : 'rgba(0,0,0,0)') },
                    ticks: { stepSize: 1, includeBounds: false, autoSkip: false, maxRotation: 0, padding: 18, color: '#000',
                             font: { family: "'Liberation Serif', serif", size: 42, weight: 'bold' },
                             callback: v => (legendLevels.includes(v) ? String(v) : '') }
                },
                y: { stacked: true, display: false }
            }
        }
    });
    addNote('barTitle', legendTitle, p.titleX, top + height / 2 + 1);
}

panelFrames.forEach(p => {
    drawPanel(p);
    drawLegendBar(p);
    addNote('panelTag', p.tag, p.tagAt[0], p.tagAt[1]);
});
</script>
</body>
</html>
